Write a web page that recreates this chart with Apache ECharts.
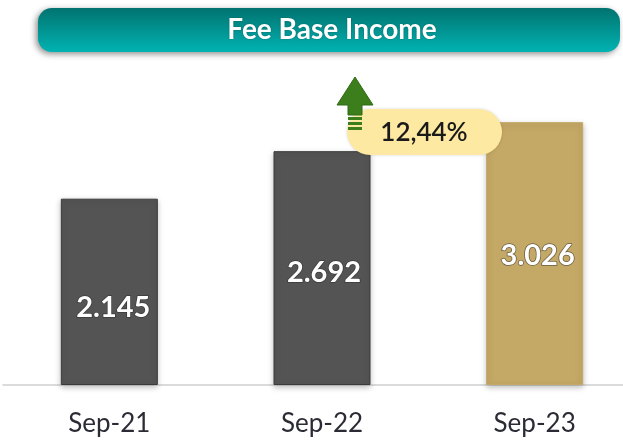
<!DOCTYPE html>
<html><head><meta charset="utf-8">
<script src="https://cdn.jsdelivr.net/npm/echarts@6/dist/echarts.min.js"></script>
<style>html,body{margin:0;padding:0;background:#fff;overflow:hidden}#c{width:645px;height:442px}</style>
</head><body><div id="c"></div>
<script>
const categories = ['Sep-21', 'Sep-22', 'Sep-23'];
const values = [2.145, 2.692, 3.026];
const valueLabels = ['2.145', '2.692', '3.026'];
const titleText = 'Fee Base Income';
const growthText = '12,44%';

const chart = echarts.init(document.getElementById('c'), null, {renderer: 'canvas'});
const barColors = ['#545454', '#545454', '#c4a865'];
const labelOffsets = [[4, 16], [2, 5], [3, 2]];
chart.setOption({
  animation: false,
  grid: {left: 3, right: 4, top: 81, bottom: 57},
  xAxis: {
    type: 'category', data: categories,
    axisTick: {show: false},
    axisLine: {lineStyle: {color: '#d0d0d0', width: 1.5}},
    axisLabel: {color: '#2b2b35', fontFamily: 'Lato', fontSize: 26, margin: 26}
  },
  yAxis: {type: 'value', min: 0, max: 3.5, show: false, splitLine: {show: false}},
  series: [{
    type: 'bar', barWidth: 97, z: 2,
    data: values.map((v, i) => ({
      value: v,
      itemStyle: {color: barColors[i], borderColor: i < 2 ? '#3a3a3a' : '#c4a865', borderWidth: 1,
        shadowColor: 'rgba(0,0,0,0.25)', shadowBlur: 6, shadowOffsetY: 2},
      label: {offset: labelOffsets[i]}
    })),
    label: {
      show: true, position: 'inside', color: '#fff', fontFamily: 'Lato', fontWeight: 'bold', fontSize: 29,
      textBorderColor: 'rgba(40,40,40,0.6)', textBorderWidth: 1.5,
      formatter: p => valueLabels[p.dataIndex]
    }
  }],
  graphic: [
    {type: 'rect', left: 38, top: 8, z: 100, shape: {width: 582, height: 44, r: 14},
      style: {fill: new echarts.graphic.LinearGradient(0, 0, 0, 1, [{offset: 0, color: '#017370'}, {offset: 1, color: '#01b3b2'}]),
        shadowColor: 'rgba(0,0,0,0.45)', shadowBlur: 6, shadowOffsetX: -2, shadowOffsetY: 2}},
    {type: 'text', x: 332, y: 30, z: 101, style: {text: titleText, fill: '#fff', font: 'bold 28px Lato', align: 'center', verticalAlign: 'middle',
      textShadowColor: 'rgba(0,60,60,0.5)', textShadowBlur: 2}},
    {type: 'rect', left: 347, top: 109, z: 100, shape: {width: 155, height: 46, r: 23},
      style: {fill: '#fde9a2', shadowColor: 'rgba(0,0,0,0.15)', shadowBlur: 3}},
    {type: 'text', x: 424, y: 133, z: 101, style: {text: growthText, fill: '#1a1a1a', font: '600 26px Lato', align: 'center', verticalAlign: 'middle'}},
    {type: 'polygon', z: 102, shape: {points: [[355, 77], [337, 105], [348, 105], [348, 115], [362, 115], [362, 105], [373, 105]]},
      style: {fill: '#3c7d1c', stroke: '#2f6a15', lineWidth: 1}},
    {type: 'rect', z: 102, shape: {x: 348, y: 117, width: 14, height: 3}, style: {fill: '#3c7d1c'}},
    {type: 'rect', z: 102, shape: {x: 348, y: 122, width: 14, height: 3}, style: {fill: '#3c7d1c'}},
    {type: 'rect', z: 102, shape: {x: 348, y: 127, width: 14, height: 3}, style: {fill: '#3c7d1c'}}
  ]
});
</script></body></html>
